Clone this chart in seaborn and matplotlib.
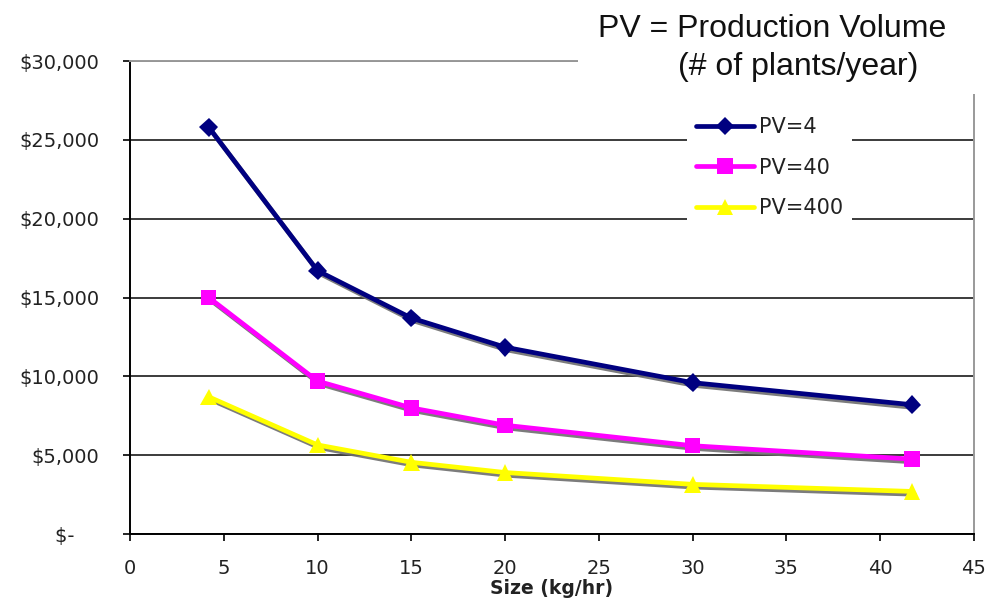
import seaborn as sns
import matplotlib.pyplot as plt
import matplotlib.patheffects as pe
import matplotlib.ticker as mtick
from matplotlib.patches import Rectangle
import pandas as pd

# system size (kg/hr) and cost for each production volume
sizes = [4.2, 10, 15, 20, 30, 41.7]
cost_pv4 = [25800, 16700, 13700, 11850, 9600, 8200]
cost_pv40 = [15000, 9700, 8000, 6900, 5600, 4750]
cost_pv400 = [8700, 5650, 4550, 3900, 3150, 2700]
series_names = ['PV=4', 'PV=40', 'PV=400']
x_ticks = [0, 5, 10, 15, 20, 25, 30, 35, 40, 45]
y_ticks = [0, 5000, 10000, 15000, 20000, 25000, 30000]

df = pd.DataFrame({
    'size': sizes * 3,
    'cost': cost_pv4 + cost_pv40 + cost_pv400,
    'pv': [n for n in series_names for _ in sizes],
})

colors = ['#000080', '#FF00FF', '#FFFF00']
markers = ['D', 's', '^']
msizes = [9.5, 11, 12]

sns.set_theme(style="white")
plt.rcParams['font.family'] = ['DejaVu Sans']

fig = plt.figure(figsize=(9.86, 5.99), dpi=100)
ax = fig.add_axes([0.1318, 0.1085, 0.8560, 0.7896])

sns.lineplot(data=df, x='size', y='cost', hue='pv', style='pv',
             palette=colors, markers=markers, dashes=False,
             linewidth=3.4, legend=False, ax=ax)

shadow = [pe.SimpleLineShadow(offset=(1.5, -2), shadow_color='#6e6e6e', alpha=0.9), pe.Normal()]
for line, c, ms in zip(ax.lines, colors, msizes):
    line.set_markersize(ms)
    line.set_markeredgecolor(c)
    line.set_markerfacecolor(c)
    line.set_markeredgewidth(0)
    line.set_path_effects(shadow)

ax.set_xlim(0, 45)
ax.set_ylim(0, 30000)
ax.set_xticks(x_ticks)
ax.set_yticks(y_ticks)
ax.yaxis.set_major_formatter(mtick.FuncFormatter(
    lambda v, _: '$-\u2007\u2007' if v == 0 else '${:,.0f}'.format(v)))

ax.grid(axis='y', color='#1a1a1a', linewidth=1.2)
ax.grid(axis='x', visible=False)
for side in ['left', 'bottom']:
    ax.spines[side].set_color('black')
    ax.spines[side].set_linewidth(1.4)
for side in ['top', 'right']:
    ax.spines[side].set_color('#999999')
    ax.spines[side].set_linewidth(1.4)

ax.tick_params(axis='both', direction='out', length=5, width=1.2, color='black',
               labelsize=14, labelcolor='#222222')
ax.tick_params(axis='y', left=True, pad=17)
ax.tick_params(axis='x', bottom=True, pad=13)
ax.set_xlabel('Size (kg/hr)', fontsize=13.5, fontweight='bold', labelpad=1, color='#222222')
ax.set_ylabel('')

leg = ax.legend(handles=list(ax.lines), labels=series_names, loc='upper left',
                bbox_to_anchor=(0.6968, 0.8197), bbox_transform=fig.transFigure,
                borderaxespad=0, fontsize=15, handlelength=2.75, handletextpad=0.25,
                labelspacing=0.98, borderpad=0.45, frameon=True, fancybox=False,
                framealpha=1, facecolor='white', edgecolor='none')
for h in leg.get_lines():
    h.set_path_effects([])
for t in leg.get_texts():
    t.set_color('#222222')

# white block behind the note in the top-right corner
fig.patches.append(Rectangle((578 / 986, 1 - 94 / 599), 1, 1, transform=fig.transFigure,
                             facecolor='white', edgecolor='none', zorder=2))
fig.text(598 / 986, 1 - 37 / 599, 'PV = Production Volume', fontsize=23,
         family='Liberation Sans', va='baseline', ha='left', color='#111111')
fig.text(678 / 986, 1 - 75 / 599, '(# of plants/year)', fontsize=23,
         family='Liberation Sans', va='baseline', ha='left', color='#111111')

fig.savefig('out.png', dpi=100)
